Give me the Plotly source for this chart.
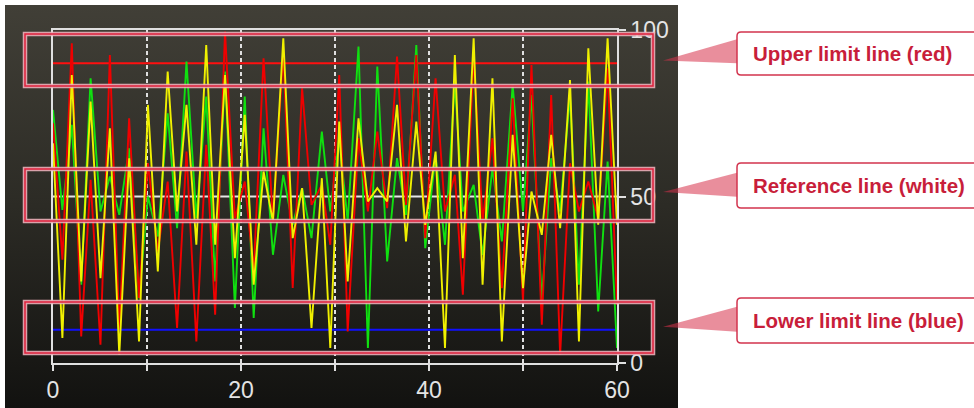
import base64
import plotly.graph_objects as go

# ---------------- data ----------------
x_pts = [0, 1.0, 2.0, 3.0, 4.0, 5.05, 6.05, 7.05, 8.1, 9.15, 10.1, 11.15, 12.2, 13.2, 14.2,
         15.25, 16.3, 17.25, 18.3, 19.35, 20.4, 21.35, 22.4, 23.4, 24.5, 25.5, 26.5, 27.5,
         28.6, 29.5, 30.45, 31.35, 32.5, 33.5, 34.5, 35.55, 36.6, 37.55, 38.65, 39.6, 40.7,
         41.7, 42.75, 43.6, 44.75, 45.7, 46.75, 47.75, 48.9, 50.0, 50.9, 52.0, 53.0, 53.95,
         55.0, 55.95, 56.95, 58.0, 59.0, 60.0]

red_vals = [72, 31, 96, 8, 55, 5.5, 92.5, 10, 73.5, 19.5, 60, 33.5, 54.5, 10.5, 63.5,
            6.5, 65.5, 14.5, 99.5, 43.5, 54.5, 27.5, 91.5, 42.5, 93.5, 22.5, 82.5, 47.5,
            53.5, 35.5, 86.5, 9.5, 67.5, 45.5, 69.5, 46.5, 92, 47.5, 92.5, 37.5, 85.5,
            45.5, 56.5, 20.5, 92.5, 42.5, 67.5, 22.5, 79.5, 18.5, 89.5, 11.5, 80.5, 2.5,
            60, 45.5, 54.5, 43.5, 88.5, 17.5]

yellow_vals = [66, 7.5, 86.5, 24.5, 78.5, 25.5, 70.5, 2.5, 61.5, 6.5, 77.5, 27.5, 87.5, 45.5, 77.5,
               35.5, 95.5, 35.5, 86.5, 31.5, 74.5, 23.5, 57.5, 42.5, 97.5, 37.5, 52.5, 10.5,
               55.5, 4.5, 72.5, 24.5, 73.5, 48.5, 52.5, 48.5, 77.5, 36.5, 72.5, 41.5, 63.5,
               4.5, 92.5, 31.5, 97.5, 23.5, 85.5, 6.5, 68.5, 22.5, 51.5, 38.5, 68.5, 40.5,
               85, 6.5, 94.5, 41.5, 97.5, 41.5]

green_vals = [76, 46, 71.5, 23.5, 85.5, 45.5, 56, 44.5, 64.5, 19.5, 50, 38, 75, 40.5, 90.5,
              43.5, 80, 24.5, 87.5, 16.5, 80, 13.5, 70.5, 32.5, 56.5, 41.5, 52.5, 37.5,
              69.5, 45.5, 67.5, 42.5, 95, 4.5, 89, 30.5, 61.5, 44.5, 95.5, 34.5, 62.5,
              35.5, 84.5, 45.5, 53.5, 32.5, 58.5, 36.5, 83.5, 45.5, 80.5, 18.5, 61.5, 45.5,
              80.5, 23.5, 84.5, 15.5, 60.5, 4.5]

x_span = [0, 60]
upper_limit = 90
reference_level = 50
lower_limit = 10

x_tick_vals = [0, 10, 20, 30, 40, 50, 60]
x_tick_text = ["0", "", "20", "", "40", "", "60"]
y_tick_vals = [0, 50, 100]
y_tick_text = ["0", "50", "100"]

callout_texts = ["Upper limit line (red)", "Reference line (white)", "Lower limit line (blue)"]

# ---------------- layout helpers (pixel -> paper) ----------------
W, H = 974, 408
PL, PR, PT, PB = 53, 617, 30, 363


def px(x):
    return (x - PL) / (PR - PL)


def py(y):
    return (PB - y) / (PB - PT)


def rounded_box(x0, y0, x1, y1, r):
    return (f"M {px(x0 + r)},{py(y0)} L {px(x1 - r)},{py(y0)} Q {px(x1)},{py(y0)} {px(x1)},{py(y0 + r)} "
            f"L {px(x1)},{py(y1 - r)} Q {px(x1)},{py(y1)} {px(x1 - r)},{py(y1)} "
            f"L {px(x0 + r)},{py(y1)} Q {px(x0)},{py(y1)} {px(x0)},{py(y1 - r)} "
            f"L {px(x0)},{py(y0 + r)} Q {px(x0)},{py(y0)} {px(x0 + r)},{py(y0)} Z")


fig = go.Figure()

# limit / reference lines
fig.add_trace(go.Scatter(x=x_span, y=[upper_limit, upper_limit], mode="lines",
                         line=dict(color="#ff1010", width=2), hoverinfo="skip"))
fig.add_trace(go.Scatter(x=x_span, y=[reference_level, reference_level], mode="lines",
                         line=dict(color="#e6e6e6", width=2), hoverinfo="skip"))
fig.add_trace(go.Scatter(x=x_span, y=[lower_limit, lower_limit], mode="lines",
                         line=dict(color="#1010ff", width=2), hoverinfo="skip"))

# signal series
fig.add_trace(go.Scatter(x=x_pts, y=green_vals, mode="lines",
                         line=dict(color="#10e010", width=1.9), hoverinfo="skip"))
fig.add_trace(go.Scatter(x=x_pts, y=red_vals, mode="lines",
                         line=dict(color="#f00000", width=1.9), hoverinfo="skip"))
fig.add_trace(go.Scatter(x=x_pts, y=yellow_vals, mode="lines",
                         line=dict(color="#f0f000", width=1.9), hoverinfo="skip"))

# background gradient panel
svg = ('<svg xmlns="http://www.w3.org/2000/svg" width="10" height="100" viewBox="0 0 10 100" '
       'preserveAspectRatio="none"><defs><linearGradient id="g" x1="0" y1="0" x2="0" y2="1">'
       '<stop offset="0" stop-color="#413f37"/><stop offset="0.5" stop-color="#2c2b25"/>'
       '<stop offset="1" stop-color="#121210"/></linearGradient></defs>'
       '<rect width="10" height="100" fill="url(#g)"/></svg>')
src = "data:image/svg+xml;base64," + base64.b64encode(svg.encode()).decode()

shapes = []
# highlight rectangles
for (t, b) in [(34, 86), (169, 221), (302, 353)]:
    shapes.append(dict(type="rect", xref="paper", yref="paper", x0=px(25), x1=px(653),
                       y0=py(b), y1=py(t), line=dict(color="rgba(236,175,185,0.9)", width=4.5)))
    shapes.append(dict(type="rect", xref="paper", yref="paper", x0=px(25), x1=px(653),
                       y0=py(b), y1=py(t), line=dict(color="#e0203c", width=1.5)))

# callouts
boxes = [(32, 75), (163, 208), (298, 343)]
tri = [(39.3, 60.5, 63.3), (172.7, 192, 196.7), (306.7, 326.7, 331.7)]
for (bt, bb), (ta, tip, tb) in zip(boxes, tri):
    shapes.append(dict(type="path", xref="paper", yref="paper",
                       path=f"M {px(737)},{py(ta)} L {px(663)},{py(tip)} L {px(737)},{py(tb)} Z",
                       fillcolor="rgba(215,50,75,0.55)", line=dict(width=0)))
    shapes.append(dict(type="path", xref="paper", yref="paper",
                       path=rounded_box(737, bt, 990, bb, 4),
                       fillcolor="white", line=dict(color="#d2334d", width=1.5)))

annotations = []
for (bt, bb), txt in zip(boxes, callout_texts):
    annotations.append(dict(xref="paper", yref="paper", x=px(751), y=py((bt + bb) / 2),
                            xanchor="left", yanchor="middle", showarrow=False,
                            text=f"<b>{txt}</b>",
                            font=dict(family="Liberation Sans, Arial, sans-serif",
                                      size=20.5, color="#c81e3a")))

tick_font = dict(family="Liberation Sans, Arial, sans-serif", size=23, color="#e4e4e4")
axis_col = "#e0e0e0"

fig.update_layout(
    width=W, height=H, autosize=False,
    margin=dict(l=PL, r=W - PR, t=PT, b=H - PB, pad=0, autoexpand=False),
    paper_bgcolor="white", plot_bgcolor="rgba(0,0,0,0)",
    showlegend=False, hovermode=False,
    images=[dict(source=src, xref="paper", yref="paper", x=px(5), y=py(5),
                 sizex=px(678) - px(5), sizey=py(5) - py(408),
                 xanchor="left", yanchor="top", sizing="stretch", layer="below")],
    shapes=shapes, annotations=annotations,
    xaxis=dict(range=[0, 60], tickvals=x_tick_vals, ticktext=x_tick_text,
               ticks="outside", ticklen=6, tickwidth=1.5, tickcolor=axis_col,
               showline=True, linecolor=axis_col, linewidth=1.5, mirror=True,
               showgrid=True, gridcolor=axis_col, gridwidth=1.5, griddash="4px,3px",
               zeroline=False, tickfont=tick_font, fixedrange=True, automargin=False),
    yaxis=dict(range=[0, 100], side="right", tickvals=y_tick_vals, ticktext=y_tick_text,
               ticks="outside", ticklen=7, tickwidth=1.5, tickcolor=axis_col,
               showline=True, linecolor=axis_col, linewidth=1.5, mirror=True,
               showgrid=False, zeroline=False, tickfont=tick_font, fixedrange=True,
               automargin=False),
)

fig.write_html("out.html", config={"displayModeBar": False},
               post_script="document.body.style.margin='0';")
